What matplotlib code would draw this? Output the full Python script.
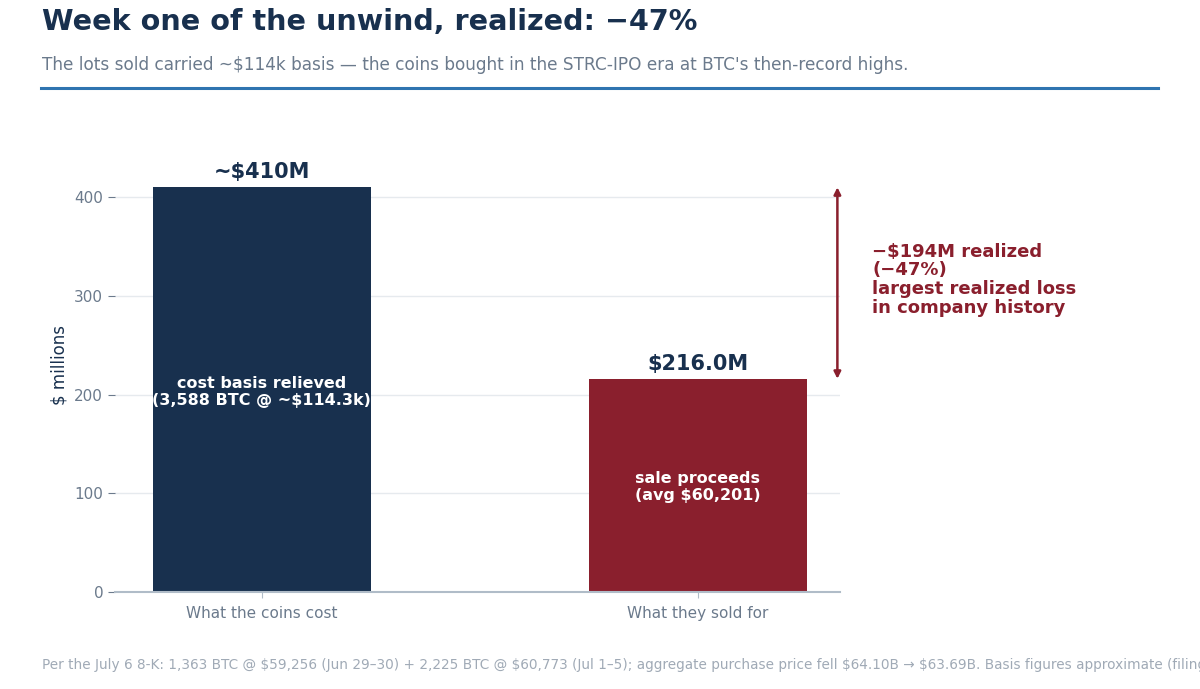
import matplotlib.pyplot as plt

# values in $ millions
categories = ["What the coins cost", "What they sold for"]
values = [410.0, 216.0]
value_labels = ["~\\$410M", "\\$216.0M"]
inner_labels = ["cost basis relieved\n(3,588 BTC @ ~\\$114.3k)", "sale proceeds\n(avg \\$60,201)"]
loss_text = "\u2212\\$194M realized\n(\u221247%)\nlargest realized loss\nin company history"
yticks = [0, 100, 200, 300, 400]

NAVY = "#18304e"
RED = "#8a1f2d"
GRAY = "#6b7a8c"

fig = plt.figure(figsize=(12, 6.89), dpi=100)
ax = fig.add_axes([0.0958, 0.1408, 0.6042, 0.659])

colors = [NAVY, RED]
x = range(len(categories))
ax.bar(x, values, width=0.5, color=colors, zorder=2)

for i, v in enumerate(values):
    ax.text(i, v + 5, value_labels[i], ha="center", va="bottom", fontsize=15,
            fontweight="bold", color=NAVY)
    ax.text(i, v / 2 - 2, inner_labels[i], ha="center", va="center", fontsize=11.5,
            fontweight="bold", color="white", linespacing=1.15)

# loss arrow
ax.annotate("", xy=(1.32, values[0]), xytext=(1.32, values[1]),
            arrowprops=dict(arrowstyle="<|-|>", color=RED, lw=1.8, mutation_scale=10,
                            shrinkA=0, shrinkB=0),
            annotation_clip=False)
ax.text(1.40, 354, loss_text, ha="left", va="top", fontsize=13, fontweight="bold",
        color=RED, linespacing=1.05, clip_on=False)

ax.set_xlim(-0.337, 1.326)
ax.set_ylim(0, 460)
ax.set_xticks(list(x))
ax.set_xticklabels(categories, fontsize=11, color=GRAY)
ax.set_yticks(yticks)
ax.tick_params(axis="y", labelsize=11, labelcolor=GRAY, color=GRAY, length=5)
ax.tick_params(axis="x", color="#b0bcc8", length=4, pad=6)
ax.set_ylabel("$ millions", fontsize=12, color=NAVY, labelpad=4)
ax.grid(axis="y", color="#e6eaee", lw=1, zorder=0)
for s in ["top", "right", "left"]:
    ax.spines[s].set_visible(False)
ax.spines["bottom"].set_color("#b0bcc8")
ax.spines["bottom"].set_linewidth(1.5)

fig.text(0.035, 0.968, "Week one of the unwind, realized: \u221247%", fontsize=20.6,
         fontweight="bold", color=NAVY, ha="left", va="center")
fig.text(0.035, 0.905, "The lots sold carried ~\\$114k basis \u2014 the coins bought in the STRC-IPO era at BTC's then-record highs.",
         fontsize=12.2, color=GRAY, ha="left", va="center")
fig.add_artist(plt.Line2D([0.034, 0.965], [0.872, 0.872], color="#2f74b0", lw=2.2))
fig.text(0.035, 0.035, "Per the July 6 8-K: 1,363 BTC @ \\$59,256 (Jun 29\u201330) + 2,225 BTC @ \\$60,773 (Jul 1\u20135); aggregate purchase price fell \\$64.10B \u2192 \\$63.69B. Basis figures approximate (filing reports aggregate only).",
         fontsize=9.85, color="#a0aab6", ha="left", va="center")

fig.savefig("out.png", dpi=100)
